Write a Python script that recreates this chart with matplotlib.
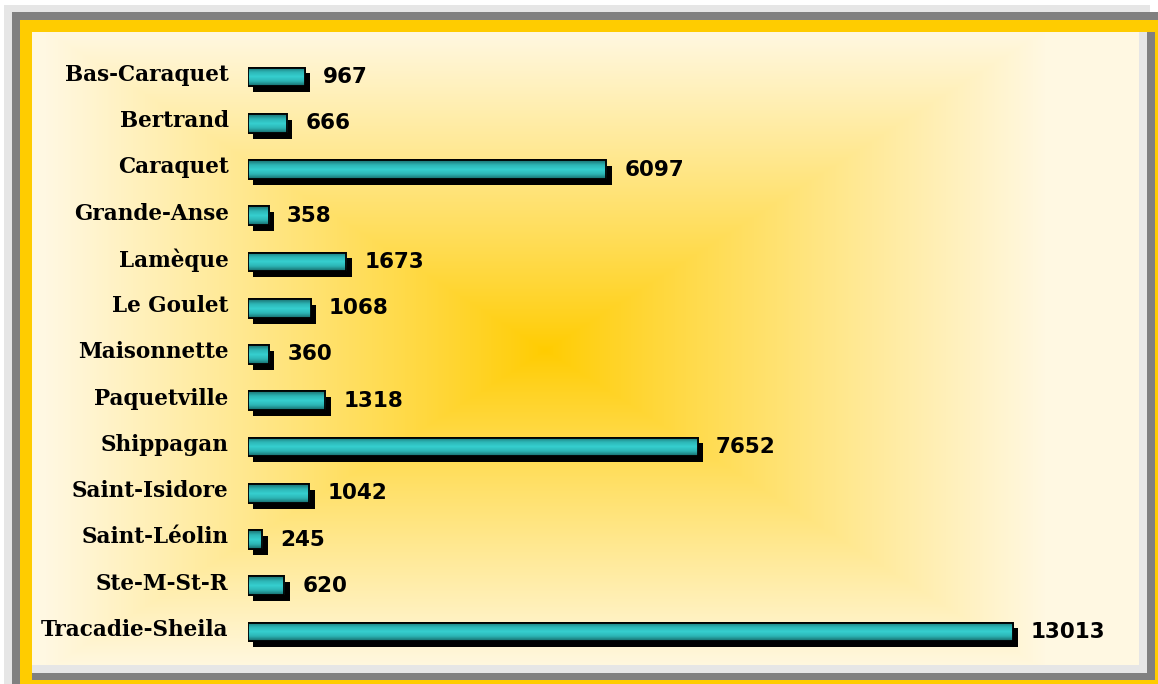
import numpy as np
import matplotlib
matplotlib.use("Agg")
import matplotlib.pyplot as plt
from matplotlib.patches import Rectangle
from matplotlib.colors import LinearSegmentedColormap
import matplotlib.patheffects as pe

# data
places = ["Bas-Caraquet", "Bertrand", "Caraquet", "Grande-Anse", "Lamèque",
          "Le Goulet", "Maisonnette", "Paquetville", "Shippagan", "Saint-Isidore",
          "Saint-Léolin", "Ste-M-St-R", "Tracadie-Sheila"]
population = [967, 666, 6097, 358, 1673, 1068, 360, 1318, 7652, 1042, 245, 620, 13013]

W, H = 1158, 684
fig = plt.figure(figsize=(W / 100, H / 100), dpi=100)
fig.patch.set_facecolor("white")


def px_rect(x0, y0, x1, y1, color, z):
    # rectangle given in pixel coords (origin top-left)
    fig.add_artist(Rectangle((x0 / W, 1 - y1 / H), (x1 - x0) / W, (y1 - y0) / H,
                             transform=fig.transFigure, facecolor=color,
                             edgecolor="none", zorder=z))


# frame
px_rect(4, 5, 1150, 684, "#e6e6e6", 0)
px_rect(12, 12, 1158, 684, "#808080", 1)
px_rect(20, 20, 1158, 684, "#ffcc00", 2)
px_rect(32, 32, 1155, 680, "#808080", 3)
px_rect(32, 32, 1147, 673, "#e6e6e6", 4)

# gradient panel
bg = fig.add_axes([32 / W, 1 - 665 / H, (1139 - 32) / W, (665 - 32) / H], zorder=5)
xx, yy = np.meshgrid(np.arange(32, 1139), np.arange(32, 665))
t = np.maximum(np.abs(xx - 545) / 500.0, np.abs(yy - 350) / 320.0)
t = np.clip(t, 0, 1) ** 0.9
c0 = np.array([255, 204, 0]) / 255.0
c1 = np.array([255, 248, 226]) / 255.0
img = c0[None, None, :] * (1 - t[..., None]) + c1[None, None, :] * t[..., None]
bg.imshow(img, aspect="auto", interpolation="bilinear")
bg.set_axis_off()

# chart axes
ax_left, ax_right = 248, 1139
ax = fig.add_axes([ax_left / W, 1 - 665 / H, (ax_right - ax_left) / W, (665 - 32) / H], zorder=6)
ax.patch.set_alpha(0)
scale = (1013 - 248) / 13013.0
row0, step = 77, 46.25
for s in ax.spines.values():
    s.set_visible(False)
ax.set_xticks([])
ax.set_yticks([])

y = np.arange(len(places))
bars = ax.barh(y, population, height=0.41, color="#33cccc", edgecolor="black",
               linewidth=1.3, zorder=3,
               path_effects=[pe.SimplePatchShadow(offset=(3.8, -4.2), shadow_rgbFace="black", alpha=1.0),
                             pe.Normal()])

teal = LinearSegmentedColormap.from_list("teal", ["#1a7070", "#2cb4b4", "#36d0d0", "#2cb4b4", "#176a6a"])
grad = np.linspace(0, 1, 64).reshape(-1, 1)
for b in bars:
    im = ax.imshow(grad, cmap=teal, aspect="auto", interpolation="bilinear",
                   extent=(b.get_x(), b.get_x() + b.get_width(), b.get_y() + b.get_height(), b.get_y()),
                   zorder=4)
    im.set_clip_path(b)
    ax.add_patch(Rectangle((b.get_x(), b.get_y()), b.get_width(), b.get_height(),
                           facecolor="none", edgecolor="black", linewidth=1.3, zorder=5))

ax.set_xlim(0, (ax_right - ax_left) / scale)
ax.set_ylim((665 - row0) / step, (32 - row0) / step)

for yi, (name, v) in enumerate(zip(places, population)):
    ax.annotate(name, xy=(0, yi), xytext=(-14, 1.5), textcoords="offset points",
                ha="right", va="center", fontsize=15.5, fontweight="bold",
                family="DejaVu Serif", color="black")
    ax.annotate(str(v), xy=(v, yi), xytext=(13, 0), textcoords="offset points",
                ha="left", va="center", fontsize=15.5, fontweight="bold",
                family="DejaVu Sans", color="black")

fig.savefig("out.png", dpi=100)
